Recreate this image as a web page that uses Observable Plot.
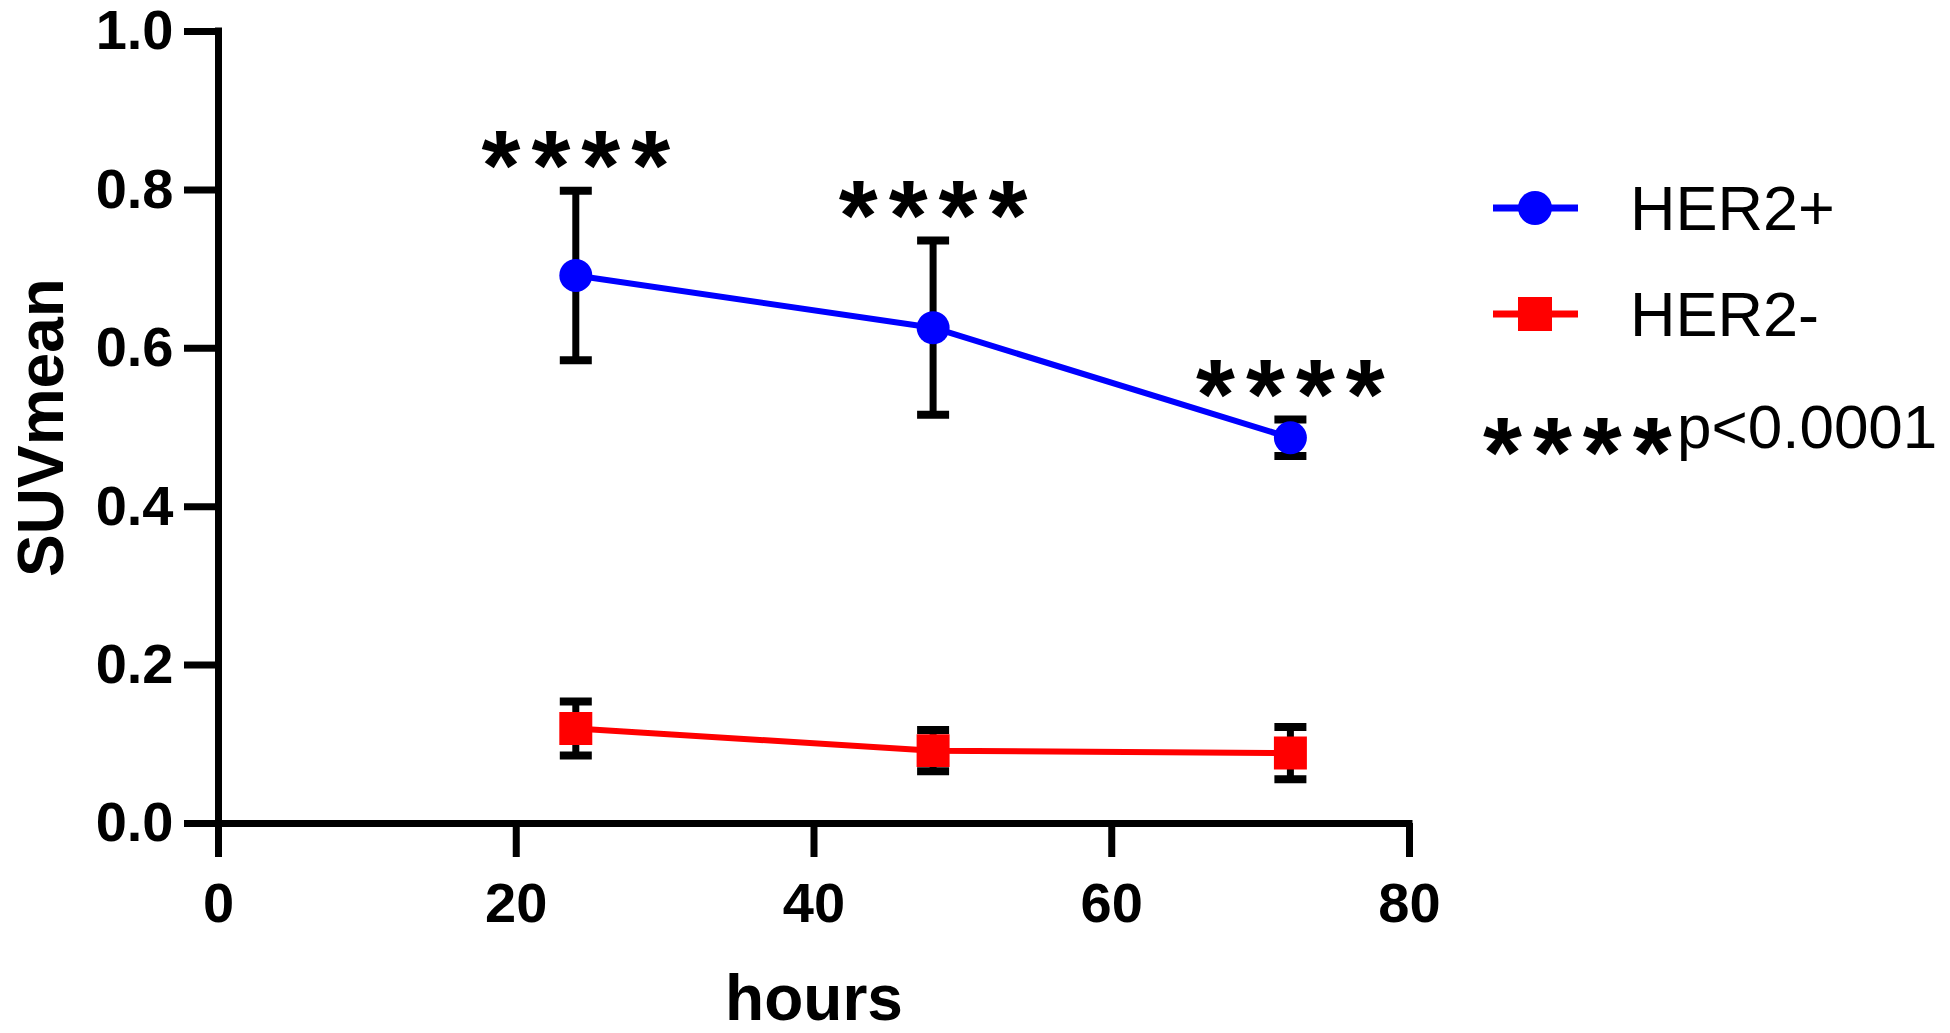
<!DOCTYPE html>
<html><head><meta charset="utf-8">
<script src="https://cdn.jsdelivr.net/npm/d3@7"></script>
<script src="https://cdn.jsdelivr.net/npm/@observablehq/plot@0.6"></script>
<style>
body{margin:0;background:#fff;}
#wrap{position:relative;width:1950px;height:1033px;overflow:hidden;background:#fff;}
#wrap svg{position:absolute;left:0;top:0;}
</style></head><body><div id="wrap"></div>
<script>
// ---- data ----
const hours = [24, 48, 72];
const seriesNames = ["HER2+", "HER2-"];
const seriesColors = ["#0000ff", "#ff0000"];
const herPosMean = [0.692, 0.626, 0.487];
const herPosSd = [0.107, 0.110, 0.023];
const herNegMean = [0.120, 0.092, 0.089];
const herNegSd = [0.034, 0.026, 0.033];
const starLabels = ["****", "****", "****"];
const xTicks = [0, 20, 40, 60, 80];
const yTicks = [0, 0.2, 0.4, 0.6, 0.8, 1.0];
const xLabel = "hours";
const yLabel = "SUVmean";
const sigStars = "****";
const sigNote = "p<0.0001";

// ---- build tables ----
const rows = [];
hours.forEach((h, i) => {
  rows.push({series: seriesNames[0], h, mean: herPosMean[i], sd: herPosSd[i]});
  rows.push({series: seriesNames[1], h, mean: herNegMean[i], sd: herNegSd[i]});
});
const capRows = rows.flatMap(d => [{h: d.h, v: d.mean + d.sd}, {h: d.h, v: d.mean - d.sd}]);
const starRows = hours.map((h, i) => ({h, top: herPosMean[i] + herPosSd[i], label: starLabels[i]}));

const capSymbol = {draw(ctx) { ctx.moveTo(-16, 0); ctx.lineTo(16, 0); }};
const font = "'Liberation Sans', Arial, Helvetica, sans-serif";
const starSpacing = 11;

const plot = Plot.plot({
  width: 1950, height: 1033,
  marginLeft: 218, marginRight: 541, marginTop: 31, marginBottom: 210,
  style: {fontFamily: font, background: "transparent", overflow: "visible", color: "#000"},
  x: {domain: [0, 80]},
  y: {domain: [0, 1]},
  color: {domain: seriesNames, range: seriesColors},
  marks: [
    Plot.axisX({ticks: xTicks, tickSize: 34, tickPadding: 25, strokeWidth: 7, fontSize: 56, fontWeight: "bold", tickFormat: d => String(d), label: null}),
    Plot.axisY({ticks: yTicks, tickSize: 34, tickPadding: 11, strokeWidth: 7, fontSize: 56, fontWeight: "bold", tickFormat: d3.format(".1f"), label: null}),
    Plot.ruleX([0], {strokeWidth: 7, strokeLinecap: "square"}),
    Plot.ruleY([0], {strokeWidth: 7, strokeLinecap: "square"}),
    Plot.text([xLabel], {frameAnchor: "bottom", textAnchor: "middle", lineAnchor: "middle", dy: 176, fontSize: 64, fontWeight: "bold", text: d => d}),
    Plot.text([yLabel], {frameAnchor: "left", textAnchor: "middle", lineAnchor: "middle", rotate: -90, dx: -176, fontSize: 64, fontWeight: "bold", text: d => d}),
    Plot.line(rows, {x: "h", y: "mean", z: "series", stroke: "series", strokeWidth: 6}),
    Plot.ruleX(rows, {x: "h", y1: d => d.mean - d.sd, y2: d => d.mean + d.sd, stroke: "#000", strokeWidth: 7}),
    Plot.dot(capRows, {x: "h", y: "v", symbol: capSymbol, stroke: "#000", fill: "none", strokeWidth: 8, r: 4}),
    Plot.dot(rows.filter(d => d.series === seriesNames[0]), {x: "h", y: "mean", symbol: "circle", fill: "series", r: 16.5}),
    Plot.dot(rows.filter(d => d.series === seriesNames[1]), {x: "h", y: "mean", symbol: "square", fill: "series", r: 18.6}),
    Plot.text(starRows, {x: "h", y: "top", text: "label", fontSize: 100, fontWeight: "bold", lineAnchor: "middle", dy: -23, dx: starSpacing / 2})
  ]
});
// widen the significance stars
d3.select(plot).selectAll("text").filter(function() { return this.textContent === "****"; })
  .style("letter-spacing", starSpacing + "px");
document.getElementById("wrap").appendChild(plot);

// ---- legend (right side) ----
const leg = d3.select("#wrap").append("svg")
  .attr("width", 1950).attr("height", 1033)
  .style("font-family", font).style("pointer-events", "none");
const rowY = [208, 314];
seriesNames.forEach((name, i) => {
  const g = leg.append("g");
  g.append("line").attr("x1", 1493).attr("x2", 1578).attr("y1", rowY[i]).attr("y2", rowY[i])
    .attr("stroke", seriesColors[i]).attr("stroke-width", 7);
  if (i === 0) g.append("circle").attr("cx", 1535).attr("cy", rowY[i]).attr("r", 17).attr("fill", seriesColors[i]);
  else g.append("rect").attr("x", 1518).attr("y", rowY[i] - 17).attr("width", 34).attr("height", 34).attr("fill", seriesColors[i]);
  g.append("text").attr("x", 1630).attr("y", rowY[i] + 22).attr("font-size", 63).text(name);
});
leg.append("text").attr("x", 1483).attr("y", 487).attr("font-size", 100).attr("font-weight", "bold")
  .style("letter-spacing", starSpacing + "px").text(sigStars);
leg.append("text").attr("x", 1677).attr("y", 448).attr("font-size", 62).text(sigNote);
</script></body></html>
